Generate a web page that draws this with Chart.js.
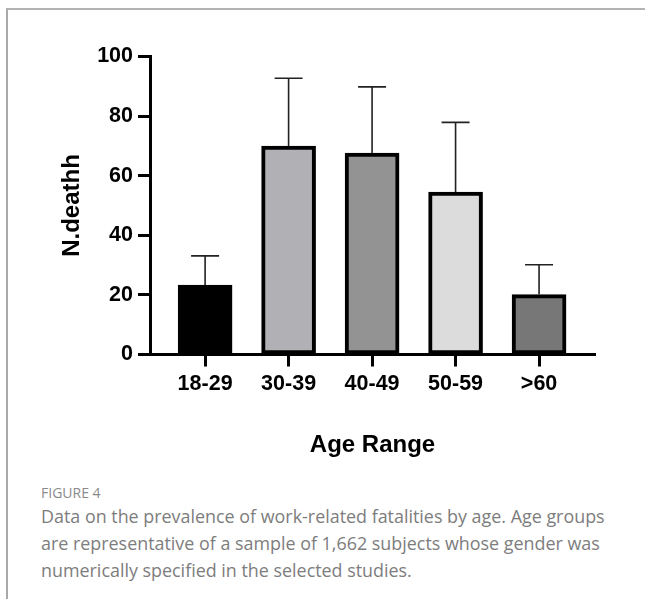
<!DOCTYPE html>
<html>
<head>
<meta charset="utf-8">
<script src="https://cdn.jsdelivr.net/npm/chart.js@4"></script>
<style>
  body { margin: 0; background: #fff; width: 645px; height: 599px; overflow: hidden; position: relative; }
  .frame { position: absolute; left: 6px; top: 8px; right: 0; bottom: 0; border-top: 2px solid #b3b3b3; border-left: 2px solid #a9a9a9; }
  #chart { position: absolute; left: 0; top: 0; }
  .caption { position: absolute; left: 41px; top: 484px; font-family: "Open Sans", sans-serif; color: #7d7d7d; white-space: nowrap; }
  .caption .fig { font-size: 14px; line-height: 18px; color: #8a8a8a; }
  .caption .txt { font-size: 17.9px; line-height: 27px; margin-top: 1px; }
</style>
</head>
<body>
<div class="frame"></div>
<canvas id="chart" width="645" height="480"></canvas>
<div class="caption">
  <div class="fig">FIGURE 4</div>
  <div class="txt">Data on the prevalence of work-related fatalities by age. Age groups<br>are representative of a sample of 1,662 subjects whose gender was<br>numerically specified in the selected studies.</div>
</div>
<script>
// ================= DATA =================
const categories = ['18-29', '30-39', '40-49', '50-59', '>60'];
const deaths = [23.3, 69.9, 67.6, 54.5, 20.1];
const errors = [9.8, 22.8, 22.2, 23.4, 10.0];
const barColors = ['#000000', '#b1b1b5', '#939393', '#dcdcdc', '#777777'];
const yTicks = [0, 20, 40, 60, 80, 100];

// ================= ERROR BARS =================
const errorBars = {
  id: 'errorBars',
  afterDatasetsDraw(chart) {
    const ctx = chart.ctx;
    const xs = chart.scales.x, ys = chart.scales.y;
    ctx.save();
    ctx.strokeStyle = '#222';
    ctx.lineWidth = 1.6;
    deaths.forEach((v, i) => {
      const x = xs.getPixelForValue(i);
      const y0 = ys.getPixelForValue(v);
      const y1 = ys.getPixelForValue(v + errors[i]);
      ctx.beginPath();
      ctx.moveTo(x, y0);
      ctx.lineTo(x, y1);
      ctx.moveTo(x - 14, y1);
      ctx.lineTo(x + 14, y1);
      ctx.stroke();
    });
    ctx.restore();
  }
};

const axisFont = { family: 'Liberation Sans, Arial, sans-serif', weight: 'bold', size: 21.5 };
const titleFont = { family: 'Liberation Sans, Arial, sans-serif', weight: 'bold', size: 24 };

new Chart(document.getElementById('chart'), {
  type: 'bar',
  data: {
    datasets: [{
      data: categories.map((c, i) => ({ x: i, y: deaths[i] })),
      backgroundColor: barColors,
      borderColor: '#000',
      borderWidth: 4,
      borderSkipped: false,
      barThickness: 54
    }]
  },
  options: {
    responsive: false,
    animation: false,
    events: [],
    layout: { padding: { left: 0, right: 50, top: 56.5, bottom: 0 } },
    plugins: { legend: { display: false }, tooltip: { enabled: false } },
    scales: {
      x: {
        type: 'linear',
        offset: false,
        min: -0.66,
        max: 4.67,
        afterBuildTicks: s => { s.ticks = categories.map((c, i) => ({ value: i })); },
        afterFit: s => { s.height = 125.5; },
        ticks: {
          autoSkip: false,
          maxRotation: 0,
          padding: 5,
          color: '#000',
          font: axisFont,
          callback: v => categories[v]
        },
        grid: { offset: false, drawOnChartArea: false, drawTicks: true, tickLength: 12, tickWidth: 3, tickColor: '#000' },
        border: { display: true, color: '#000', width: 3 },
        title: { display: true, text: 'Age Range', color: '#000', font: titleFont, padding: { top: 0, bottom: 20 } }
      },
      y: {
        min: 0,
        max: 100,
        afterBuildTicks: s => { s.ticks = yTicks.map(v => ({ value: v })); },
        afterFit: s => { s.width = 150; },
        ticks: { padding: 5, color: '#000', font: axisFont },
        grid: { drawOnChartArea: false, drawTicks: true, tickLength: 12, tickWidth: 3, tickColor: '#000' },
        border: { display: true, color: '#000', width: 3 },
        title: { display: true, text: 'N.deathh', color: '#000', font: titleFont, padding: { top: 58, bottom: 0 } }
      }
    }
  },
  plugins: [errorBars]
});
</script>
</body>
</html>
